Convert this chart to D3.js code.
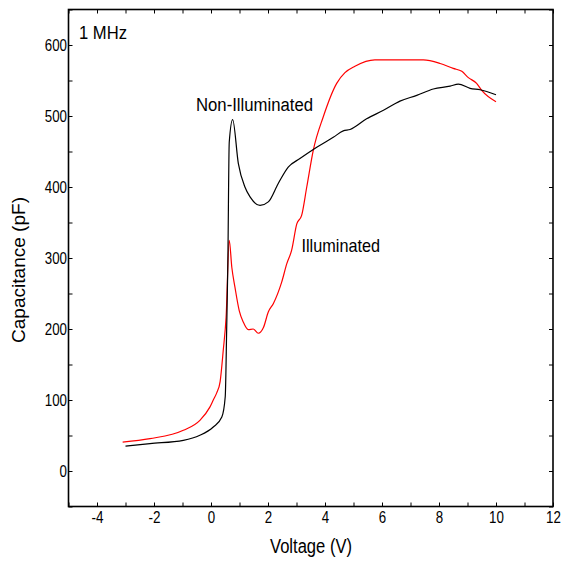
<!DOCTYPE html>
<html>
<head>
<meta charset="utf-8">
<script src="https://cdn.jsdelivr.net/npm/d3@7"></script>
<style>
  html, body { margin: 0; padding: 0; background: #fff; }
  svg { display: block; }
  text { font-family: "Liberation Sans Narrow", "Arial Narrow", "Liberation Sans", Arial, sans-serif; fill: #000; }
</style>
</head>
<body>
<script>
// ---- data ----
const nonIllumV = [-3.0, -2.14, -0.97, -0.39, 0.08, 0.38, 0.50, 0.55, 0.59, 0.64, 0.76, 0.96, 1.19, 1.37, 1.72, 2.01, 2.36, 2.71, 3.12, 3.71, 4.29, 4.64, 4.88, 5.46, 6.05, 6.63, 7.22, 7.80, 8.39, 8.68, 9.09, 9.44, 10.0];
const nonIllumC = [35, 38.6, 43.2, 50.3, 62, 76, 105, 200, 290, 463, 495, 433, 400, 386, 374, 379, 405, 428, 440, 456, 470, 479, 481, 496, 508, 521, 529, 538, 542, 545, 539, 537, 530];

const illumV = [-3.10, -2.14, -0.97, -0.39, -0.04, 0.08, 0.20, 0.32, 0.43, 0.53, 0.64, 0.73, 0.84, 0.99, 1.13, 1.31, 1.48, 1.66, 1.84, 2.01, 2.19, 2.48, 2.66, 2.83, 3.01, 3.18, 3.36, 3.59, 3.94, 4.41, 4.70, 5.05, 5.75, 7.45, 8.04, 8.50, 8.80, 9.03, 9.32, 9.50, 10.0];
const illumC = [40.8, 45.6, 57.3, 71.4, 90, 100, 110, 126, 170, 217, 325, 287, 259, 226, 210, 199, 200, 194, 202, 224, 236, 266, 292, 311, 348, 360, 400, 452, 499, 546, 561, 570, 579, 579, 574, 567, 563, 554, 546, 536, 520];

const xTicks = [-5, -4, -3, -2, -1, 0, 1, 2, 3, 4, 5, 6, 7, 8, 9, 10, 11, 12];
const xTickLabels = [-4, -2, 0, 2, 4, 6, 8, 10, 12];
const yTicks = [-50, 0, 50, 100, 150, 200, 250, 300, 350, 400, 450, 500, 550, 600, 650];
const yTickLabels = [0, 100, 200, 300, 400, 500, 600];

const xTitle = "Voltage (V)";
const yTitle = "Capacitance (pF)";
const freqLabel = "1 MHz";
const seriesNames = ["Non-Illuminated", "Illuminated"];

// ---- layout ----
const W = 561, H = 561;
const L = 68.5, R = 553, T = 9.5, B = 506.5;

const svg = d3.select("body").append("svg").attr("width", W).attr("height", H);

const x = d3.scaleLinear().domain([-5, 12]).range([L, R]);
const y = d3.scaleLinear().domain([-50, 650]).range([B, T]);

function digitsWidth(s) {
  let w = 0;
  for (const c of String(s)) w += (c === "-" ? 4.6 : 7.4);
  return w;
}

// axes
const gx = svg.append("g").attr("transform", `translate(0,${B})`)
  .call(d3.axisBottom(x).tickValues(xTicks).tickSizeInner(-4).tickSizeOuter(0).tickPadding(5)
    .tickFormat(d => xTickLabels.includes(d) ? String(d) : ""));
const gxTop = svg.append("g").attr("transform", `translate(0,${T})`)
  .call(d3.axisTop(x).tickValues(xTicks).tickSizeInner(-4).tickSizeOuter(0).tickFormat(""));
const gy = svg.append("g").attr("transform", `translate(${L},0)`)
  .call(d3.axisLeft(y).tickValues(yTicks).tickSizeInner(-4).tickSizeOuter(0).tickPadding(1.5)
    .tickFormat(d => yTickLabels.includes(d) ? String(d) : ""));
const gyR = svg.append("g").attr("transform", `translate(${R},0)`)
  .call(d3.axisRight(y).tickValues(yTicks).tickSizeInner(-4).tickSizeOuter(0).tickFormat(""));

[gx, gxTop, gy, gyR].forEach(g => {
  g.selectAll(".domain").remove();
  g.selectAll(".tick line").attr("stroke", "#000").attr("stroke-width", 1);
  g.selectAll(".tick text")
    .attr("font-size", 16)
    .attr("font-family", "'Liberation Sans Narrow','Arial Narrow','Liberation Sans',Arial,sans-serif")
    .attr("fill", "#000")
    .each(function() {
      const t = d3.select(this).text();
      if (t) d3.select(this).attr("textLength", digitsWidth(t)).attr("lengthAdjust", "spacingAndGlyphs");
    });
});

// frame
svg.append("rect").attr("x", L).attr("y", T).attr("width", R - L).attr("height", B - T)
  .attr("fill", "none").attr("stroke", "#000").attr("stroke-width", 1.6);

// lines
const line = d3.line().x(d => x(d[0])).y(d => y(d[1])).curve(d3.curveMonotoneX);
const nonIllum = nonIllumV.map((v, i) => [v, nonIllumC[i]]);
const illum = illumV.map((v, i) => [v, illumC[i]]);

svg.append("path").datum(illum).attr("d", line)
  .attr("fill", "none").attr("stroke", "#ff0000").attr("stroke-width", 1.2);
svg.append("path").datum(nonIllum).attr("d", line)
  .attr("fill", "none").attr("stroke", "#000").attr("stroke-width", 1.2);

// texts
function label(txt, px, py, size, len, anchor) {
  return svg.append("text").attr("x", px).attr("y", py)
    .attr("font-size", size).attr("text-anchor", anchor || "start")
    .attr("textLength", len).attr("lengthAdjust", "spacingAndGlyphs")
    .text(txt);
}
label(freqLabel, 79, 39, 19, 48);
label(seriesNames[0], 196, 111, 18, 117);
label(seriesNames[1], 301.5, 252, 19, 78.5);
label(xTitle, 311, 553, 20, 82, "middle");

svg.append("text")
  .attr("transform", "translate(25,270) rotate(-90)")
  .attr("text-anchor", "middle")
  .attr("font-size", 19)
  .attr("font-family", "'Liberation Sans',Arial,sans-serif")
  .attr("textLength", 146).attr("lengthAdjust", "spacingAndGlyphs")
  .text(yTitle);
</script>
</body>
</html>
